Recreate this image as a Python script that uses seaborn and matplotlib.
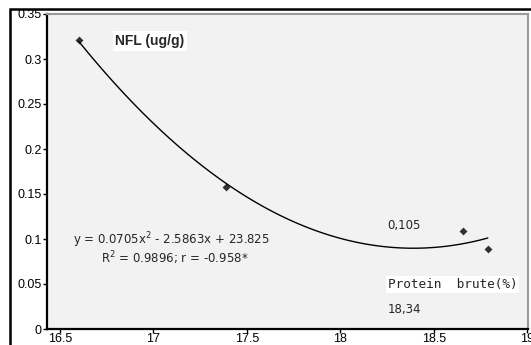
import matplotlib
matplotlib.use("Agg")
import matplotlib.pyplot as plt
import seaborn as sns
import pandas as pd
from matplotlib.patches import Rectangle

protein = [16.60, 17.39, 18.655, 18.79]
nfl = [0.321, 0.158, 0.109, 0.089]
xticks = [16.5, 17, 17.5, 18, 18.5, 19]
yticks = [0, 0.05, 0.1, 0.15, 0.2, 0.25, 0.3, 0.35]

sns.set_style("white")
plt.rcParams['font.family'] = ['Liberation Sans', 'DejaVu Sans']

df = pd.DataFrame({"protein": protein, "nfl": nfl})

fig = plt.figure(figsize=(5.31, 3.45), dpi=100)
ax = fig.add_axes([47/531, 16/345, 481/531, 315/345])
ax.set_facecolor("#f2f2f2")

sns.regplot(data=df, x="protein", y="nfl", order=2, ci=None, ax=ax,
            marker="D",
            scatter_kws=dict(color="black", s=16, zorder=3, linewidths=0),
            line_kws=dict(color="black", lw=1.0))

ax.set_xlim(16.43, 19.005)
ax.set_ylim(0, 0.35)
ax.set_xticks(xticks)
ax.set_xticklabels([f"{v:g}" for v in xticks])
ax.set_yticks(yticks)
ax.set_yticklabels([f"{v:g}" for v in yticks])
ax.set_xlabel("")
ax.set_ylabel("")
ax.tick_params(axis="both", direction="out", length=3, width=1, labelsize=9,
               colors="black", pad=1)
ax.tick_params(axis="x", pad=0)
ax.tick_params(axis="y", left=True)
ax.tick_params(axis="x", bottom=True)

for s in ["left", "bottom"]:
    ax.spines[s].set_color("black")
    ax.spines[s].set_linewidth(1.6)
for s in ["top", "right"]:
    ax.spines[s].set_color("#999999")
    ax.spines[s].set_linewidth(1.5)

ax.text(0.142, 0.915, "NFL (ug/g)", transform=ax.transAxes, fontsize=10,
        fontweight="bold", ha="left", va="center",
        bbox=dict(facecolor="white", edgecolor="none", pad=2))
ax.text(0.258, 0.283, "y = 0.0705x$^2$ - 2.5863x + 23.825", transform=ax.transAxes,
        fontsize=8.5, ha="center", va="center", family="DejaVu Sans")
ax.text(0.266, 0.225, "R$^2$ = 0.9896; r = -0.958*", transform=ax.transAxes,
        fontsize=8.5, ha="center", va="center", family="DejaVu Sans")
ax.text(0.708, 0.33, "0,105", transform=ax.transAxes, fontsize=8.5,
        ha="left", va="center", family="DejaVu Sans")
ax.text(0.708, 0.14, "Protein  brute(%)", transform=ax.transAxes, fontsize=9.2,
        ha="left", va="center", family="DejaVu Sans Mono",
        bbox=dict(facecolor="white", edgecolor="none", pad=1.5))
ax.text(0.708, 0.063, "18,34", transform=ax.transAxes, fontsize=8.5,
        ha="left", va="center", family="DejaVu Sans")

fig.patches.append(Rectangle((10/531, -0.1), 1.2, (345-9.5)/345 + 0.1,
                             transform=fig.transFigure, fill=False,
                             edgecolor="black", lw=1.8))

fig.savefig("out.png", dpi=100)
